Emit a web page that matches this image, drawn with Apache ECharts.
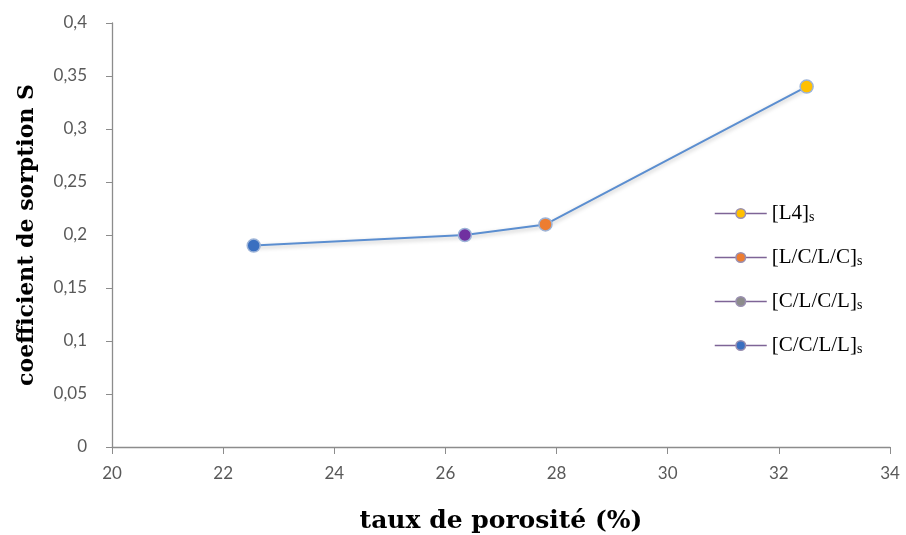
<!DOCTYPE html>
<html><head><meta charset="utf-8">
<script src="https://cdn.jsdelivr.net/npm/echarts@6/dist/echarts.min.js"></script>
<style>html,body{margin:0;padding:0;background:#fff}#c{width:906px;height:535px}</style>
</head><body><div id="c"></div>
<script>
const seriesNames = ['[L4]s', '[L/C/L/C]s', '[C/L/C/L]s', '[C/C/L/L]s'];
const legendMain = ['[L4]', '[L/C/L/C]', '[C/L/C/L]', '[C/C/L/L]'];
const porosity = [32.5, 27.8, 26.35, 22.55];
const sorption = [0.34, 0.21, 0.20, 0.19];
const pointColors = ['#FFC000', '#ED7D31', '#7030A0', '#3A6FC0'];
const legendColors = ['#FFC000', '#ED7D31', '#8C8C8C', '#3A6FC0'];

const linePts = porosity.map((x, i) => [x, sorption[i]]).sort((a, b) => a[0] - b[0]);

const chart = echarts.init(document.getElementById('c'));
const series = [{
  type: 'line', name: 'trend', data: linePts, symbol: 'none', z: 1,
  lineStyle: { color: '#5B8ED0', width: 2, shadowColor: 'rgba(0,0,0,0.25)', shadowBlur: 4, shadowOffsetY: 2 },
  silent: true
}];
seriesNames.forEach((n, i) => {
  series.push({
    type: 'line', name: n, data: [[porosity[i], sorption[i]]], z: 3,
    symbol: 'circle', symbolSize: 13,
    itemStyle: { color: pointColors[i], borderColor: '#9DB4D8', borderWidth: 1.5 },
    lineStyle: { color: '#7E6496', width: 1.5 }
  });
});
chart.setOption({
  animation: false,
  grid: { left: 112, right: 16, top: 23, bottom: 88, containLabel: false, outerBoundsMode: 'none' },
  legend: {
    orient: 'vertical', left: 709, top: 198, itemWidth: 52, itemHeight: 12, itemGap: 23,
    data: seriesNames.map((n, i) => ({ name: n, itemStyle: { color: legendColors[i], borderColor: '#9A8FB0', borderWidth: 1.5 }, lineStyle: { color: '#7E6496', width: 1.5 } })),
    formatter: n => '{a|' + legendMain[seriesNames.indexOf(n)] + '}{b|s}',
    textStyle: {
      rich: {
        a: { fontFamily: 'Liberation Serif', fontSize: 21, color: '#000' },
        b: { fontFamily: 'Liberation Serif', fontSize: 14, color: '#000', verticalAlign: 'bottom', padding: [7, 0, 0, 0] }
      }
    }
  },
  xAxis: {
    type: 'value', min: 20, max: 34, interval: 2,
    name: 'taux de porosité (%)', nameLocation: 'middle', nameGap: 62,
    nameTextStyle: { fontFamily: 'DejaVu Serif', fontWeight: 'bold', fontSize: 25, color: '#000' },
    axisLine: { lineStyle: { color: '#8C8C8C', width: 1.3 } },
    axisTick: { show: true, length: 7, lineStyle: { color: '#8C8C8C' } },
    axisLabel: { margin: 18, fontFamily: 'Lato', fontSize: 17, color: '#595959' },
    splitLine: { show: false }
  },
  yAxis: {
    type: 'value', min: 0, max: 0.4, interval: 0.05,
    name: 'coefficient de sorption S', nameLocation: 'middle', nameGap: 74, nameRotate: 90,
    nameTextStyle: { fontFamily: 'DejaVu Serif', fontWeight: 'bold', fontSize: 22, color: '#000' },
    axisLine: { show: true, lineStyle: { color: '#8C8C8C', width: 1.3 } },
    axisTick: { show: true, length: 6, lineStyle: { color: '#8C8C8C' } },
    axisLabel: { margin: 25, fontFamily: 'Lato', fontSize: 17, color: '#595959',
      formatter: v => String(+v.toFixed(2)).replace('.', ',') },
    splitLine: { show: false }
  },
  series: series
});
</script></body></html>
